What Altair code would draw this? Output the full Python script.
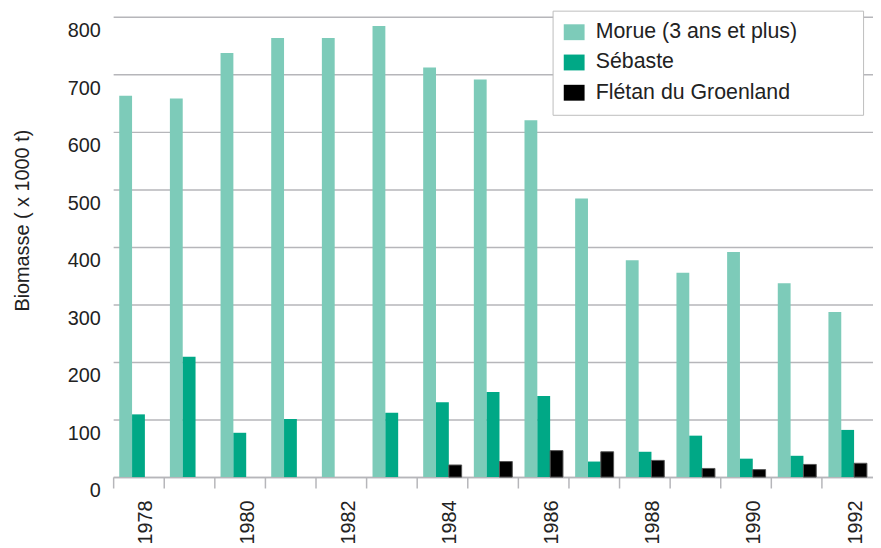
import altair as alt
import pandas as pd

years = list(range(1978, 1993))
species = ["Morue (3 ans et plus)", "Sébaste", "Flétan du Groenland"]
colors = ["#7dcbb9", "#00a886", "#000000"]

morue = [663, 658, 737, 763, 763, 784, 712, 691, 620, 484, 377, 355, 391, 337, 287]
sebaste = [109, 209, 77, 101, None, 112, 130, 148, 141, 27, 44, 72, 32, 37, 82]
fletan = [None, None, None, None, None, None, 21, 27, 46, 44, 29, 15, 13, 22, 24]

y_ticks = [0, 100, 200, 300, 400, 500, 600, 700, 800]

rows = []
for name, series in zip(species, [morue, sebaste, fletan]):
    for yr, v in zip(years, series):
        if v is not None:
            rows.append({"year": yr, "species": name, "biomasse": v})
df = pd.DataFrame(rows)

grid_gray = "#b6b6ba"
font = "Liberation Sans"

bars = alt.Chart(df).mark_bar(strokeWidth=1).encode(
    x=alt.X(
        "year:O",
        scale=alt.Scale(paddingInner=0, paddingOuter=0),
        axis=alt.Axis(
            title=None,
            bandPosition=0,
            labelAngle=270,
            labelAlign="right",
            labelBaseline="middle",
            labelOffset=8,
            labelPadding=12,
            labelExpr="datum.value % 2 == 0 ? datum.label : ''",
            tickSize=11,
            tickWidth=1.5,
            tickColor=grid_gray,
            domainColor=grid_gray,
            domainWidth=1.5,
            labelFontSize=20,
            labelColor="#222222",
            grid=False,
        ),
    ),
    xOffset=alt.XOffset(
        "species:N",
        sort=species,
        scale=alt.Scale(domain=species, paddingInner=0, paddingOuter=0.475),
    ),
    y=alt.Y(
        "biomasse:Q",
        scale=alt.Scale(domain=[0, 800], nice=False, zero=True),
        axis=alt.Axis(
            values=y_ticks,
            title="Biomasse ( x 1000 t)",
            titleFontSize=20,
            titleFontWeight="normal",
            titleColor="#222222",
            titleAngle=270,
            titleAlign="center",
            titleBaseline="middle",
            titleX=-91,
            titleY=205,
            ticks=False,
            domain=False,
            labelPadding=13,
            labelOffset=14,
            labelFontSize=20,
            labelColor="#222222",
            grid=True,
            gridColor=grid_gray,
            gridWidth=1.5,
        ),
    ),
    color=alt.Color(
        "species:N",
        sort=species,
        scale=alt.Scale(domain=species, range=colors),
        legend=alt.Legend(
            title=".",
            titleOrient="right",
            titleOpacity=0,
            titleFontSize=2,
            titlePadding=54,
            orient="none",
            legendX=443,
            legendY=-6.2,
            padding=11,
            fillColor="white",
            strokeColor="#bdbdbd",
            symbolType="M-1,-0.762H1V0.762H-1Z",
            symbolSize=441,
            symbolStrokeWidth=0,
            symbolOpacity=1,
            labelFontSize=21.5,
            labelLimit=400,
            labelColor="#222222",
            labelOffset=11,
            rowPadding=7.5,
        ),
    ),
    stroke=alt.condition(
        alt.datum.species == "Flétan du Groenland",
        alt.value("#555555"),
        alt.value("transparent"),
    ),
)

chart = bars.properties(
    width=766,
    height=464,
    autosize=alt.AutoSizeParams(type="none"),
    padding={"left": 106, "top": 6.7, "right": 0, "bottom": 69},
).configure(
    font=font,
).configure_view(
    stroke=None,
)

chart.save("out.html", embed_options={"renderer": "svg", "actions": False})
